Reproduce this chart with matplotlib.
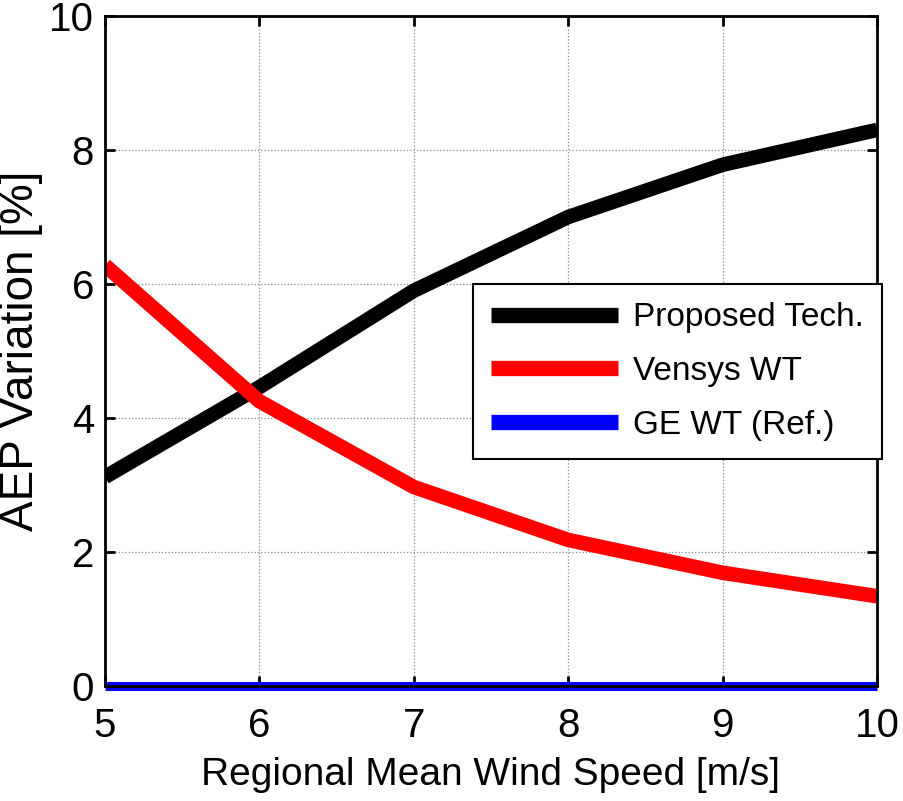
import matplotlib
matplotlib.use("Agg")
import matplotlib.pyplot as plt

plt.rcParams['font.family'] = ['Liberation Sans', 'DejaVu Sans']

wind_speed = [5, 6, 7, 8, 9, 10]
proposed = [3.12, 4.46, 5.90, 7.00, 7.78, 8.30]
vensys = [6.28, 4.25, 2.97, 2.18, 1.69, 1.34]
ge_ref = [0, 0, 0, 0, 0, 0]
labels = ["Proposed Tech.", "Vensys WT", "GE WT (Ref.)"]

fig = plt.figure(figsize=(9.04, 8.01), dpi=100)
ax = fig.add_axes([105/904, 1-686/801, (877-105)/904, (686-16)/801])

ax.plot(wind_speed, proposed, color='black', lw=10.5, label=labels[0], solid_capstyle='butt')
ax.plot(wind_speed, vensys, color='red', lw=10.5, label=labels[1], solid_capstyle='butt')
ax.plot(wind_speed, ge_ref, color='blue', lw=6.5, label=labels[2], solid_capstyle='butt', clip_on=False)

ax.set_xlim(5, 10)
ax.set_ylim(0, 10)
ax.set_xticks([5, 6, 7, 8, 9, 10])
ax.set_yticks([0, 2, 4, 6, 8, 10])
ax.grid(True, color='#888888', linestyle=':', linewidth=0.9)
ax.set_axisbelow(True)
ax.tick_params(direction='in', length=7, width=2, top=True, right=True, labelsize=29)
ax.tick_params(axis='x', pad=15)
ax.tick_params(axis='y', pad=8)
for s in ax.spines.values():
    s.set_linewidth(2)
ax.set_xlabel("Regional Mean Wind Speed [m/s]", fontsize=28, labelpad=9)
ax.set_ylabel("AEP Variation [%]", fontsize=33, labelpad=4)

leg = ax.legend(loc='upper right', bbox_to_anchor=(1.006, (686-284)/670), fontsize=24,
                frameon=True, fancybox=False, edgecolor='black', framealpha=1,
                handlelength=3.8, handletextpad=0.45, borderpad=0.55, labelspacing=0.68,
                borderaxespad=0)
leg.get_frame().set_linewidth(1.5)
for ln in leg.get_lines():
    ln.set_linewidth(11)

fig.savefig("out.png", dpi=100)
